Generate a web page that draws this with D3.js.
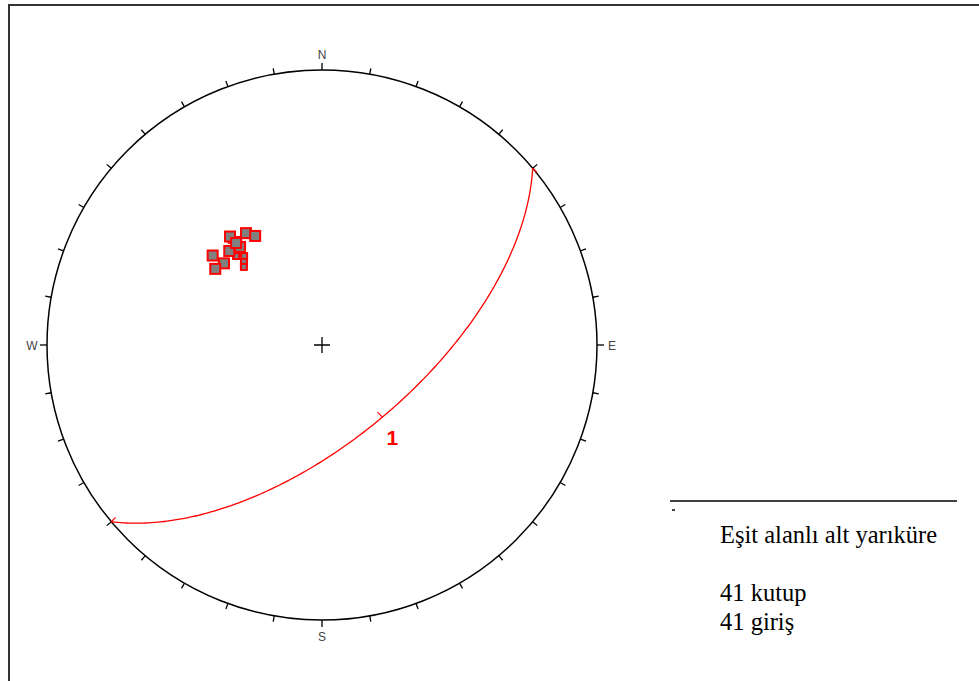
<!DOCTYPE html>
<html>
<head>
<meta charset="utf-8">
<script src="https://cdn.jsdelivr.net/npm/d3@7"></script>
<style>
  body { margin: 0; background: #fff; }
  svg { display: block; }
</style>
</head>
<body>
<div id="chart"></div>
<script>
// Equal-area lower hemisphere stereonet
var width = 979, height = 681;

// pole data: trend / plunge in degrees
var poleTrends  = [325.8, 328.5, 315.4, 309.3, 309.8, 305.5, 319.7, 320.1, 319.9];
var polePlunges = [49.3, 51.6, 50.3, 47.4, 51.7, 50.6, 47.1, 51.6, 49.9];
// overlapping poles (drawn as small marks)
var minorTrends  = [319.4, 321.3, 319.0, 321.1, 318.6, 318.8, 316.8, 315.0, 316.0];
var minorPlunges = [48.3, 49.5, 50.6, 51.8, 52.8, 54.6, 55.9, 57.0, 52.9];

// great circle planes: dip direction / dip
var planeDipDirs = [140];
var planeDips = [62];
var planeLabels = ["1"];

var cardinalLabels = ["N", "E", "S", "W"];
var tickAngles = d3.range(0, 360, 10);
var legendLines = ["Eşit alanlı alt yarıküre", "", "41 kutup", "41 giriş"];

var cx = 322, cy = 345, R = 275;
var rScale = d3.scaleLinear().domain([0, 1]).range([0, R]);

// trend/plunge -> screen x,y
function project(trend, plunge) {
  var t = trend * Math.PI / 180;
  var r = Math.SQRT2 * Math.sin((90 - plunge) * Math.PI / 360);
  return [cx + rScale(r) * Math.sin(t), cy - rScale(r) * Math.cos(t)];
}

var svg = d3.select("#chart").append("svg").attr("width", width).attr("height", height);

// frame
svg.append("path").attr("d", "M9,681 L9,5 L979,5").attr("fill", "none").attr("stroke", "#333").attr("stroke-width", 2);

// primitive circle
svg.append("circle").attr("cx", cx).attr("cy", cy).attr("r", R)
  .attr("fill", "none").attr("stroke", "#000").attr("stroke-width", 1.5);

// ticks every 10 deg (longer at cardinal points)
svg.selectAll(".tick").data(tickAngles).enter().append("line")
  .attr("x1", function(d) { return cx + R * Math.sin(d * Math.PI / 180); })
  .attr("y1", function(d) { return cy - R * Math.cos(d * Math.PI / 180); })
  .attr("x2", function(d) { var l = d % 90 === 0 ? 7 : 6; return cx + (R + l) * Math.sin(d * Math.PI / 180); })
  .attr("y2", function(d) { var l = d % 90 === 0 ? 7 : 6; return cy - (R + l) * Math.cos(d * Math.PI / 180); })
  .attr("stroke", "#000").attr("stroke-width", 1.3);

// cardinal labels
svg.selectAll(".card").data(cardinalLabels).enter().append("text")
  .attr("x", function(d, i) { return cx + (R + 15) * Math.sin(i * Math.PI / 2); })
  .attr("y", function(d, i) { return cy - (R + 16) * Math.cos(i * Math.PI / 2) + 4.5; })
  .attr("text-anchor", "middle")
  .attr("font-family", "Liberation Sans, Arial, sans-serif").attr("font-size", 12)
  .attr("fill", "#444").text(function(d) { return d; });

// centre cross
svg.append("path").attr("d", "M" + (cx - 8) + "," + cy + "h16M" + cx + "," + (cy - 8) + "v16")
  .attr("stroke", "#000").attr("stroke-width", 1.3);

// great circles
var line = d3.line().x(function(d) { return d[0]; }).y(function(d) { return d[1]; });
planeDipDirs.forEach(function(dd, i) {
  var dip = planeDips[i] * Math.PI / 180;
  var strike = (dd - 90) * Math.PI / 180;
  // x=east, y=north, z=down
  var pts = d3.range(0, 180.5, 1).map(function(a) {
    var ar = a * Math.PI / 180;
    var sx = Math.sin(strike), sy = Math.cos(strike);
    var ddx = Math.sin(dd * Math.PI / 180) * Math.cos(dip), ddy = Math.cos(dd * Math.PI / 180) * Math.cos(dip), ddz = Math.sin(dip);
    var x = Math.cos(ar) * sx + Math.sin(ar) * ddx;
    var y = Math.cos(ar) * sy + Math.sin(ar) * ddy;
    var z = Math.sin(ar) * ddz;
    var plunge = Math.asin(Math.min(1, z)) * 180 / Math.PI;
    var trend = Math.atan2(x, y) * 180 / Math.PI;
    return project(trend, plunge);
  });
  svg.append("path").attr("d", line(pts)).attr("fill", "none")
    .attr("stroke", "#f00").attr("stroke-width", 1.3);
  // end hooks
  [pts[0], pts[pts.length - 1]].forEach(function(p, k) {
    var q = k === 0 ? pts[3] : pts[pts.length - 4];
    var ang = Math.atan2(q[1] - p[1], q[0] - p[0]);
    svg.append("path")
      .attr("d", "M" + (p[0] + 6 * Math.cos(ang - 0.9)) + "," + (p[1] + 6 * Math.sin(ang - 0.9)) + "L" + p[0] + "," + p[1])
      .attr("stroke", "#f00").attr("stroke-width", 1.2).attr("fill", "none");
  });
  // dip tick and label
  var m = pts[90];
  svg.append("line").attr("x1", m[0]).attr("y1", m[1])
    .attr("x2", m[0] - 5).attr("y2", m[1] - 5)
    .attr("stroke", "#f00").attr("stroke-width", 1.2);
  svg.append("text").attr("x", m[0] + 4).attr("y", m[1] + 28)
    .attr("font-family", "Liberation Sans, Arial, sans-serif").attr("font-size", 21).attr("font-weight", "bold")
    .attr("fill", "#f00").text(planeLabels[i]);
});

// minor (overlapping) poles
svg.selectAll(".minor").data(minorTrends).enter().append("rect")
  .attr("x", function(d, i) { return project(d, minorPlunges[i])[0] - 3; })
  .attr("y", function(d, i) { return project(d, minorPlunges[i])[1] - 3; })
  .attr("width", 6).attr("height", 6)
  .attr("fill", "#808080").attr("stroke", "#f00").attr("stroke-width", 2);

// poles
svg.selectAll(".pole").data(poleTrends).enter().append("rect")
  .attr("x", function(d, i) { return project(d, polePlunges[i])[0] - 5; })
  .attr("y", function(d, i) { return project(d, polePlunges[i])[1] - 5; })
  .attr("width", 10).attr("height", 10)
  .attr("fill", "#808080").attr("stroke", "#f00").attr("stroke-width", 2);

// legend
svg.append("line").attr("x1", 670).attr("x2", 957).attr("y1", 501).attr("y2", 501)
  .attr("stroke", "#000").attr("stroke-width", 1.6);
svg.append("rect").attr("x", 672).attr("y", 509).attr("width", 3).attr("height", 2).attr("fill", "#444");
svg.selectAll(".leg").data(legendLines).enter().append("text")
  .attr("x", 720).attr("y", function(d, i) { return 543 + i * 29; })
  .attr("font-family", "Liberation Serif, Times New Roman, serif").attr("font-size", 24.5)
  .attr("fill", "#000").text(function(d) { return d; });
</script>
</body>
</html>
